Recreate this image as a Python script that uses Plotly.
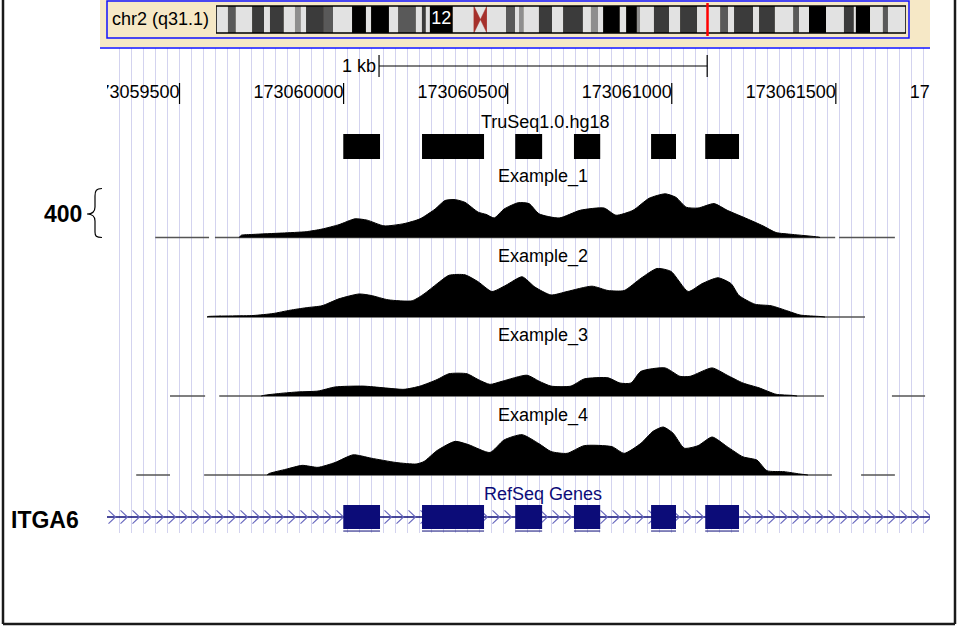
import numpy as np
import plotly.graph_objects as go

W, H = 959, 626
FONT = "Liberation Sans, Arial, Helvetica, sans-serif"

# ---------------- data ----------------
chrom_label = "chr2 (q31.1)"
chrom_len_mb = 242.95
view_start = 173059279
view_end = 173061787

tick_values = [173059500, 173060000, 173060500, 173061000, 173061500, 173062000]
tick_labels = [str(v) for v in tick_values]

scale_bar_start = 173060108
scale_bar_len = 1000
scale_bar_label = "1 kb"

# ideogram bands (Mb)
band_start = [0, 4.2, 7.0, 12.7, 16.9, 19.0, 23.9, 27.8, 29.9, 31.7, 38.0, 41.2, 47.9, 52.8, 54.6,
              60.9, 64.1, 70.4, 72.5, 73.9, 75.3, 83.4, 90.8, 95.4, 102.1, 105.3, 106.7, 108.4,
              113.7, 118.3, 122.2, 129.2, 132.0, 134.5, 136.3, 142.2, 144.4, 148.2, 149.3, 154.2,
              159.5, 163.4, 169.4, 177.5, 180.3, 182.4, 189.1, 191.2, 196.8, 203.2, 205.3, 208.8,
              214.8, 221.1, 224.6, 225.3, 230.3, 234.8, 236.6]
band_end = band_start[1:] + [242.95]
band_stain = ["gneg", "gpos50", "gneg", "gpos75", "gneg", "gpos75", "gneg", "gpos25", "gneg",
              "gpos75", "gpos50", "gneg", "gpos100", "gneg", "gpos100", "gneg", "gpos50", "gneg",
              "gpos75", "gneg", "gpos100", "gneg", "acen", "gneg", "gpos50", "gneg", "gpos25",
              "gneg", "gpos75", "gneg", "gpos75", "gneg", "gpos25", "gneg", "gpos100", "gneg",
              "gpos100", "gpos25", "gneg", "gpos75", "gneg", "gpos75", "gneg", "gpos50", "gneg",
              "gpos75", "gneg", "gpos75", "gneg", "gpos50", "gneg", "gpos100", "gneg", "gpos75",
              "gneg", "gpos100", "gneg", "gpos50", "gneg"]
labelled_band = "12"
labelled_band_index = 20

truseq_label = "TruSeq1.0.hg18"
region_starts = [173059999, 173060239, 173060523, 173060702, 173060937, 173061102]
region_ends = [173060111, 173060428, 173060605, 173060782, 173061013, 173061205]

gene_name = "ITGA6"
gene_track_label = "RefSeq Genes"
exon_starts = [173059999, 173060239, 173060523, 173060702, 173060937, 173061102]
exon_ends = [173060111, 173060428, 173060605, 173060782, 173061013, 173061205]

coverage_max = 400
sample_names = ["Example_1", "Example_2", "Example_3", "Example_4"]

cov1_pos = [173059682, 173059688, 173059724, 173059813, 173059886, 173059934, 173059986, 173060035,
            173060072, 173060123, 173060184, 173060233, 173060279, 173060309, 173060340, 173060370,
            173060410, 173060434, 173060459, 173060489, 173060532, 173060565, 173060596, 173060657,
            173060721, 173060794, 173060830, 173060882, 173060931, 173060980, 173061013, 173061044,
            173061080, 173061129, 173061169, 173061230, 173061278, 173061318, 173061367, 173061446,
            173061452]
cov1_val = [0, 18, 25, 36, 47, 68, 104, 151, 140, 94, 112, 151, 230, 299, 306, 284, 205, 187, 158,
            230, 281, 274, 191, 158, 220, 238, 180, 220, 317, 353, 324, 245, 238, 274, 220, 151, 94,
            40, 25, 4, 0]
cov1_seg_start = [173059426, 173059608, 173061510]
cov1_seg_end = [173059590, 173061498, 173061680]

cov2_pos = [173059584, 173059587, 173059724, 173059785, 173059837, 173059886, 173059934, 173059986,
            173060047, 173060084, 173060136, 173060209, 173060245, 173060285, 173060321, 173060370,
            173060410, 173060452, 173060495, 173060544, 173060583, 173060632, 173060681, 173060757,
            173060806, 173060855, 173060906, 173060955, 173060998, 173061050, 173061092, 173061141,
            173061181, 173061205, 173061254, 173061303, 173061354, 173061391, 173061452, 173061467]
cov2_val = [0, 4, 12, 28, 55, 75, 91, 147, 186, 174, 139, 131, 186, 269, 337, 341, 285, 206, 257,
            325, 242, 178, 206, 249, 214, 214, 313, 392, 368, 206, 269, 317, 269, 174, 103, 91, 48,
            16, 4, 0]
cov2_seg_start = [173059584]
cov2_seg_end = [173061589]

cov3_pos = [173059749, 173059761, 173059807, 173059861, 173059922, 173059974, 173060059, 173060123,
            173060184, 173060233, 173060285, 173060321, 173060376, 173060410, 173060446, 173060483,
            173060559, 173060596, 173060632, 173060693, 173060733, 173060806, 173060842, 173060876,
            173060906, 173060980, 173061025, 173061056, 173061123, 173061169, 173061217, 173061266,
            173061318, 173061367, 173061382]
cov3_val = [0, 7, 21, 33, 40, 73, 80, 66, 54, 80, 133, 180, 180, 133, 94, 119, 168, 119, 80, 80,
            138, 147, 105, 105, 199, 227, 159, 159, 227, 168, 105, 66, 14, 5, 0]
cov3_seg_start = [173059471, 173059621, 173061671]
cov3_seg_end = [173059578, 173061464, 173061772]

cov4_pos = [173059767, 173059773, 173059825, 173059874, 173059922, 173059974, 173060029, 173060084,
            173060160, 173060221, 173060245, 173060285, 173060340, 173060382, 173060446, 173060489,
            173060544, 173060596, 173060632, 173060681, 173060733, 173060818, 173060855, 173060906,
            173060943, 173060974, 173061004, 173061038, 173061080, 173061123, 173061169, 173061217,
            173061260, 173061290, 173061342, 173061391, 173061415]
cov4_val = [0, 12, 47, 78, 62, 101, 163, 136, 101, 89, 109, 198, 272, 244, 182, 283, 326, 252, 190,
            175, 237, 229, 175, 256, 353, 388, 338, 217, 237, 307, 229, 147, 120, 35, 27, 8, 0]
cov4_seg_start = [173059368, 173059575, 173061577]
cov4_seg_end = [173059471, 173061488, 173061680]

# ---------------- layout geometry (pixels) ----------------
DATA_L, DATA_R = 107, 930
GRID_TOP, GRID_BOT = 48, 532
CHROM_L, CHROM_R, CHROM_T, CHROM_B = 216, 906, 6, 33
TRACK_BASE = [237.5, 317, 396, 475]
TRACK_H = 49.5
LABEL_Y = [176.5, 256.5, 335.5, 415.5]
GENE_TOP, GENE_BOT, GENE_MID, GENE_UNIT = 500, 533, 517, 12

NAVY = "#0c0c78"
STAIN = {"gneg": "#e2e2e2", "gpos25": "#8e8e8e", "gpos50": "#595959", "gpos75": "#3b3b3b",
         "gpos100": "#000000", "acen": "#e2e2e2"}


def fx(p):
    return p / W


def fy(p):
    return 1 - p / H


bp_per_px = (view_end - view_start) / (DATA_R - DATA_L)

fig = go.Figure()
common = dict(hoverinfo="skip", showlegend=False)

# ---- tick labels / tick marks / scale bar (main pixel axis y) ----
fig.add_trace(go.Scatter(x=tick_values, y=[93] * len(tick_values), mode="text", text=tick_labels,
                         textposition="middle left", cliponaxis=True,
                         textfont=dict(size=18, family=FONT, color="black"),
                         xaxis="x", yaxis="y", **common))
tx, ty = [], []
for t in tick_values:
    tx += [t, t, None]
    ty += [83, 104, None]
fig.add_trace(go.Scatter(x=tx, y=ty, mode="lines", line=dict(color="black", width=1.2),
                         xaxis="x", yaxis="y", **common))
sb0, sb1 = scale_bar_start, scale_bar_start + scale_bar_len
fig.add_trace(go.Scatter(x=[sb0, sb0, None, sb0, sb1, None, sb1, sb1],
                         y=[55, 77, None, 66, 66, None, 55, 77], mode="lines",
                         line=dict(color="black", width=1.2), xaxis="x", yaxis="y", **common))

# ---- coverage tracks ----
tracks = [(cov1_pos, cov1_val, cov1_seg_start, cov1_seg_end),
          (cov2_pos, cov2_val, cov2_seg_start, cov2_seg_end),
          (cov3_pos, cov3_val, cov3_seg_start, cov3_seg_end),
          (cov4_pos, cov4_val, cov4_seg_start, cov4_seg_end)]
for i, (pos, val, ss, se) in enumerate(tracks):
    ya = f"y{i + 2}"
    zx, zy = [], []
    for s, e in zip(ss, se):
        zx += [s, e, None]
        zy += [0, 0, None]
    fig.add_trace(go.Scatter(x=zx, y=zy, mode="lines", line=dict(color="#555555", width=1.6),
                             xaxis="x", yaxis=ya, **common))
    fig.add_trace(go.Scatter(x=pos, y=val, mode="lines", fill="tozeroy", fillcolor="black",
                             line=dict(color="black", width=1, shape="spline", smoothing=0.6),
                             xaxis="x", yaxis=ya, **common))

# ---- gene track (y6) ----
fig.add_trace(go.Scatter(x=[view_start, view_end], y=[0, 0], mode="lines",
                         line=dict(color=NAVY, width=1.5), xaxis="x", yaxis="y6", **common))
spacing = 12 * bp_per_px
centers = np.arange(view_start + 8.5 * bp_per_px, view_end + spacing, spacing)
cx, cy = [], []
for c in centers:
    cx += [c - 7 * bp_per_px, c, c - 7 * bp_per_px, None]
    cy += [0.55, 0, -0.55, None]
fig.add_trace(go.Scatter(x=cx, y=cy, mode="lines", line=dict(color="#6a6abf", width=1.2),
                         xaxis="x", yaxis="y6", **common))

# ---- ideogram (x2 / y7) ----
view_center_mb = (view_start + view_end) / 2 / 1e6
fig.add_trace(go.Scatter(x=[view_center_mb, view_center_mb], y=[-0.11, 1.11], mode="lines",
                         line=dict(color="#ff0000", width=2.5), xaxis="x2", yaxis="y7", **common))
fig.add_trace(go.Scatter(x=[(band_start[labelled_band_index] + band_end[labelled_band_index]) / 2],
                         y=[0.5], mode="text", text=[labelled_band],
                         textfont=dict(size=18, family=FONT, color="white"),
                         xaxis="x2", yaxis="y7", **common))

shapes = []
# beige header background and blue frames
shapes.append(dict(type="rect", xref="paper", yref="paper", x0=fx(100), x1=fx(930), y0=fy(47),
                   y1=fy(0), fillcolor="#f6e8c6", line=dict(width=0), layer="below"))
shapes.append(dict(type="rect", xref="paper", yref="paper", x0=fx(107), x1=fx(909), y0=fy(38),
                   y1=fy(1), fillcolor="rgba(0,0,0,0)", line=dict(color="#1010ff", width=1.5),
                   layer="below"))
shapes.append(dict(type="line", xref="paper", yref="paper", x0=fx(100), x1=fx(930), y0=fy(48),
                   y1=fy(48), line=dict(color="#1010ff", width=1.5)))
# bands (below the red position line and band label)
for s, e, st in zip(band_start, band_end, band_stain):
    shapes.append(dict(type="rect", xref="x2", yref="y7", x0=s, x1=e, y0=0, y1=1,
                       fillcolor=STAIN[st], line=dict(width=0), layer="below"))
    if st == "acen":
        m = (s + e) / 2
        shapes.append(dict(type="path", xref="x2", yref="y7",
                           path=f"M {s},0 L {s},1 L {m},0.5 Z M {e},0 L {e},1 L {m},0.5 Z",
                           fillcolor="#a5302b", line=dict(color="#a5302b", width=0.5),
                           layer="below"))
shapes.append(dict(type="rect", xref="x2", yref="y7", x0=0, x1=chrom_len_mb, y0=0, y1=1,
                   fillcolor="rgba(0,0,0,0)", line=dict(color="black", width=1.5), layer="below"))

# target regions
for s, e in zip(region_starts, region_ends):
    shapes.append(dict(type="rect", xref="x", yref="y", x0=s, x1=e, y0=134, y1=159,
                       fillcolor="black", line=dict(width=0)))
# exons
for s, e in zip(exon_starts, exon_ends):
    shapes.append(dict(type="rect", xref="x", yref="y6", x0=s, x1=e, y0=-1, y1=1,
                       fillcolor=NAVY, line=dict(width=0)))
    shapes.append(dict(type="line", xref="x", yref="y6", x0=s, x1=e, y0=-1.17, y1=-1.17,
                       line=dict(color=NAVY, width=1)))


# brace next to the "400" label
def pxpath(cmds):
    out = []
    for cmd, pts in cmds:
        out.append(cmd + " " + " ".join(f"{fx(x):.5f},{fy(y):.5f}" for x, y in pts))
    return " ".join(out)


brace = pxpath([("M", [(102, 188.5)]), ("C", [(96, 188.5), (95, 191), (95, 196)]),
                ("L", [(95, 207)]), ("C", [(95, 212), (92, 214), (87, 214)]),
                ("C", [(92, 214), (95, 216), (95, 221)]), ("L", [(95, 232)]),
                ("C", [(95, 236), (96, 237.5), (102, 237.5)])])
shapes.append(dict(type="path", xref="paper", yref="paper", path=brace,
                   line=dict(color="black", width=1.2)))
# outer frame
for x0, y0, x1, y1 in [(3, -5, 3, 624), (955, -5, 955, 624), (3, 624, 955, 624)]:
    shapes.append(dict(type="line", xref="paper", yref="paper", x0=fx(x0), y0=fy(y0), x1=fx(x1),
                       y1=fy(y1), line=dict(color="#1a1a1a", width=2.5)))


# ---- text annotations ----
def ann(text, x, y, xanchor="center", size=18, color="black"):
    return dict(text=text, x=fx(x), y=fy(y), xref="paper", yref="paper", xanchor=xanchor,
                yanchor="middle", showarrow=False, font=dict(family=FONT, size=size, color=color))


annotations = [ann(chrom_label, 110, 18.5, "left"),
               ann(scale_bar_label, 378, 66, "right"),
               ann(truseq_label, 545, 122.5),
               ann(gene_track_label, 543, 494, color=NAVY),
               ann(f"<b>{coverage_max}</b>", 84, 214, "right", size=23),
               ann(f"<b>{gene_name}</b>", 9, 520, "left", size=23)]
for name, ly in zip(sample_names, LABEL_Y):
    annotations.append(ann(name, 543, ly))

hidden = dict(visible=False, fixedrange=True)
layout = dict(
    width=W, height=H, margin=dict(l=0, r=0, t=0, b=0),
    paper_bgcolor="white", plot_bgcolor="rgba(0,0,0,0)", showlegend=False, hovermode=False,
    shapes=shapes, annotations=annotations,
    xaxis=dict(domain=[fx(DATA_L), fx(DATA_R)], range=[view_start, view_end], anchor="y",
               showgrid=True, gridcolor="#d3d3ef", gridwidth=1, tickmode="linear",
               tick0=view_start + 0.3 * bp_per_px, dtick=spacing, showticklabels=False,
               ticks="", zeroline=False, showline=False, fixedrange=True),
    yaxis=dict(domain=[fy(GRID_BOT), fy(GRID_TOP)], range=[GRID_BOT, GRID_TOP], anchor="x",
               **hidden),
    xaxis2=dict(domain=[fx(CHROM_L), fx(CHROM_R)], range=[0, chrom_len_mb], anchor="y7", **hidden),
)
for i, base in enumerate(TRACK_BASE):
    pad = 3 * coverage_max / TRACK_H
    layout[f"yaxis{i + 2}"] = dict(domain=[fy(base + 3), fy(base - TRACK_H)],
                                   range=[-pad, coverage_max], anchor="x", **hidden)
layout["yaxis6"] = dict(domain=[fy(GENE_BOT), fy(GENE_TOP)],
                        range=[(GENE_MID - GENE_BOT) / GENE_UNIT, (GENE_MID - GENE_TOP) / GENE_UNIT],
                        anchor="x", **hidden)
ch_unit = CHROM_B - CHROM_T
layout["yaxis7"] = dict(domain=[fy(CHROM_B + 4), fy(CHROM_T - 4)],
                        range=[-4 / ch_unit, 1 + 4 / ch_unit], anchor="x2", **hidden)

fig.update_layout(**layout)
fig.write_html("out.html", config={"displayModeBar": False},
               post_script="document.body.style.margin='0px';document.body.style.overflow='hidden';")
